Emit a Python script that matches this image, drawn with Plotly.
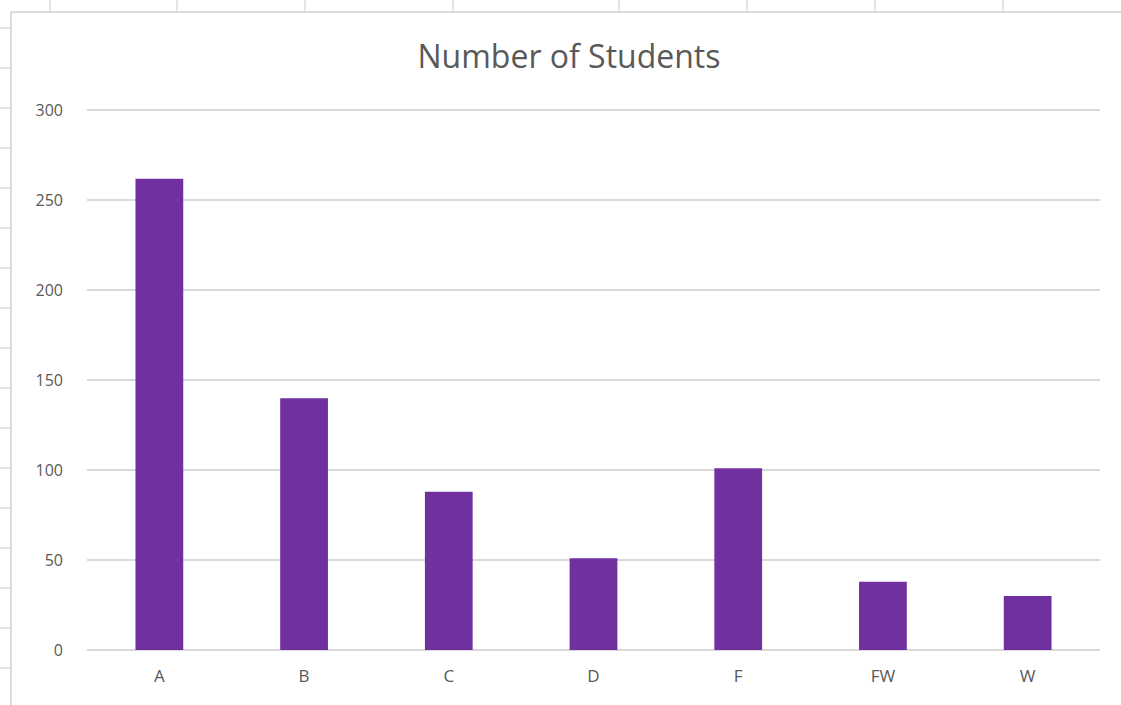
import plotly.graph_objects as go

# Data
grades = ["A", "B", "C", "D", "F", "FW", "W"]
students = [262, 140, 88, 51, 101, 38, 30]
y_ticks = [0, 50, 100, 150, 200, 250, 300]

W, H = 1121, 705
Y_MAX = 300.8
L, R, B = 87, 21, 55
PH0 = H - 110 - B            # pixels for 0..300
T = round(110 - (Y_MAX - 300) * PH0 / 300)
PW, PH = W - L - R, H - T - B


def px(x):
    return (x - L) / PW


def py(y):
    return (H - B - y) / PH


fig = go.Figure(
    go.Bar(
        x=grades,
        y=students,
        marker=dict(color="#7030A0", line=dict(width=0)),
        width=0.33,
        hoverinfo="x+y",
    )
)

shapes = []
grid_col = "#d4d4d4"
# spreadsheet column lines peeking above the chart area
for xv in [50, 177, 305, 453, 619, 747, 875, 1003]:
    shapes.append(dict(type="line", xref="paper", yref="paper",
                       x0=px(xv), x1=px(xv), y0=py(0), y1=py(12),
                       line=dict(color=grid_col, width=1.2)))
# spreadsheet row lines to the left of the chart area
for yv in range(28, 705, 40):
    shapes.append(dict(type="line", xref="paper", yref="paper",
                       x0=px(0), x1=px(11), y0=py(yv), y1=py(yv),
                       line=dict(color=grid_col, width=1.2)))
# chart area border
shapes.append(dict(type="line", xref="paper", yref="paper",
                   x0=px(11), x1=px(W), y0=py(12), y1=py(12),
                   line=dict(color="#d0d0d0", width=1.5)))
shapes.append(dict(type="line", xref="paper", yref="paper",
                   x0=px(11), x1=px(11), y0=py(12), y1=py(H),
                   line=dict(color="#d0d0d0", width=1.5)))

fig.update_layout(
    width=W, height=H,
    margin=dict(l=L, r=R, t=T, b=B, pad=0),
    paper_bgcolor="white",
    plot_bgcolor="white",
    showlegend=False,
    title=dict(text="Number of Students", x=569 / W, xanchor="center",
               y=1 - 57 / H, yanchor="middle",
               font=dict(family="Open Sans", size=32, color="#595959")),
    bargap=0.67,
    shapes=shapes,
    xaxis=dict(
        type="category",
        showgrid=False,
        showline=False,
        zeroline=False,
        ticks="",
        ticklabelstandoff=14,
        tickfont=dict(family="Open Sans", size=17, color="#595959"),
    ),
    yaxis=dict(
        range=[0, Y_MAX],
        tickvals=y_ticks,
        showgrid=True,
        gridcolor="#d9d9d9",
        gridwidth=1.5,
        zeroline=True,
        zerolinecolor="#d9d9d9",
        zerolinewidth=1.5,
        showline=False,
        ticks="",
        ticklabelstandoff=23,
        tickfont=dict(family="Open Sans", size=16, color="#595959"),
    ),
)

fig.write_html(
    "out.html",
    config={"displayModeBar": False},
    post_script="document.body.style.margin='0';document.body.style.overflow='hidden';",
)
